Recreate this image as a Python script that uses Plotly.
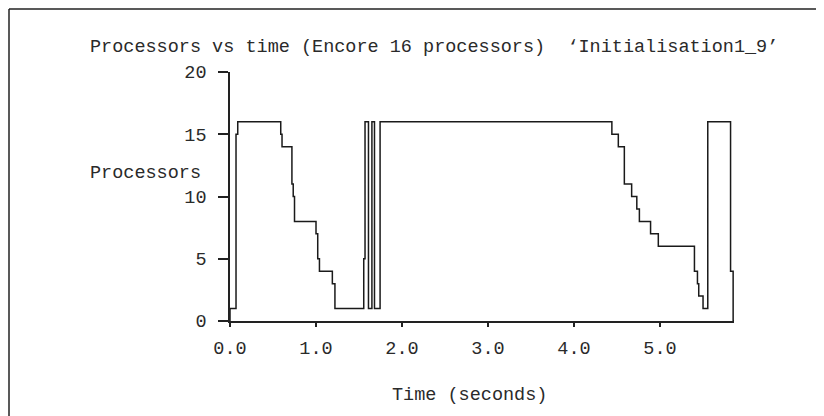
import plotly.graph_objects as go

# step change points (time in s, processors after that time)
times = [0.0, 0.0, 0.07, 0.09, 0.59, 0.605, 0.72, 0.735, 0.75, 1.00, 1.02, 1.04,
         1.19, 1.22, 1.555, 1.57, 1.61, 1.65, 1.68, 1.745, 4.44, 4.515, 4.585,
         4.67, 4.73, 4.76, 4.89, 4.98, 5.40, 5.435, 5.45, 5.50, 5.555, 5.82,
         5.85, 5.86]
procs = [0, 1, 15, 16, 15, 14, 11, 10, 8, 7, 5, 4,
         3, 1, 5, 16, 1, 16, 1, 16, 15, 14, 11,
         10, 9, 8, 7, 6, 4, 3, 2, 1, 16, 4,
         0, 0]

x_ticks = [0, 1, 2, 3, 4, 5]
x_tick_labels = ["0.0", "1.0", "2.0", "3.0", "4.0", "5.0"]
y_ticks = [0, 5, 10, 15, 20]

title_text = "Processors vs time (Encore 16 processors)  \u2018Initialisation1_9\u2019"

# the page body has an 8px margin, so the figure is laid out 8px in from the window
OFF = 8
W, H = 824 - OFF, 416 - OFF
L, R, T, B = 230 - OFF, 90, 72 - OFF, 95
pw, ph = W - L - R, H - T - B


def px_x(p):
    # window pixel -> paper fraction
    return (p - OFF - L) / pw


def px_y(p):
    return (H - B - (p - OFF)) / ph


font = dict(family="Liberation Mono, Courier New, monospace", size=18.5, color="#2a2a2a")

fig = go.Figure(go.Scatter(x=times, y=procs, mode="lines", line_shape="hv",
                           line=dict(color="#1a1a1a", width=1.5), showlegend=False))

fig.update_layout(
    width=W, height=H, margin=dict(l=L, r=R, t=T, b=B),
    paper_bgcolor="white", plot_bgcolor="white", font=font,
    xaxis=dict(range=[0, 5.86], tickvals=x_ticks, ticktext=x_tick_labels,
               showgrid=False, zeroline=False, showline=True, linecolor="#222",
               linewidth=1.5, ticks="outside", ticklen=4, tickwidth=1.5,
               tickcolor="#222", ticklabelstandoff=5),
    yaxis=dict(range=[0, 20], tickvals=y_ticks, showgrid=False, zeroline=False,
               showline=True, linecolor="#222", linewidth=1.5, ticks="outside",
               ticklen=10, tickwidth=1.5, tickcolor="#222", ticklabelstandoff=8),
)

fig.add_annotation(text=title_text, xref="paper", yref="paper", x=px_x(88), y=px_y(47),
                   xanchor="left", yanchor="middle", showarrow=False, font=font)
fig.add_annotation(text="Processors", xref="paper", yref="paper", x=px_x(88), y=px_y(173),
                   xanchor="left", yanchor="middle", showarrow=False, font=font)
fig.add_annotation(text="Time (seconds)", xref="paper", yref="paper", x=px_x(390), y=px_y(395),
                   xanchor="left", yanchor="middle", showarrow=False, font=font)

# scanned page frame: top and left edges
fig.add_shape(type="line", xref="paper", yref="paper", x0=px_x(9), x1=px_x(824),
              y0=px_y(9), y1=px_y(9), line=dict(color="#222", width=1.5))
fig.add_shape(type="line", xref="paper", yref="paper", x0=px_x(9), x1=px_x(9),
              y0=px_y(9), y1=px_y(416), line=dict(color="#222", width=1.5))

fig.write_html("out.html")
